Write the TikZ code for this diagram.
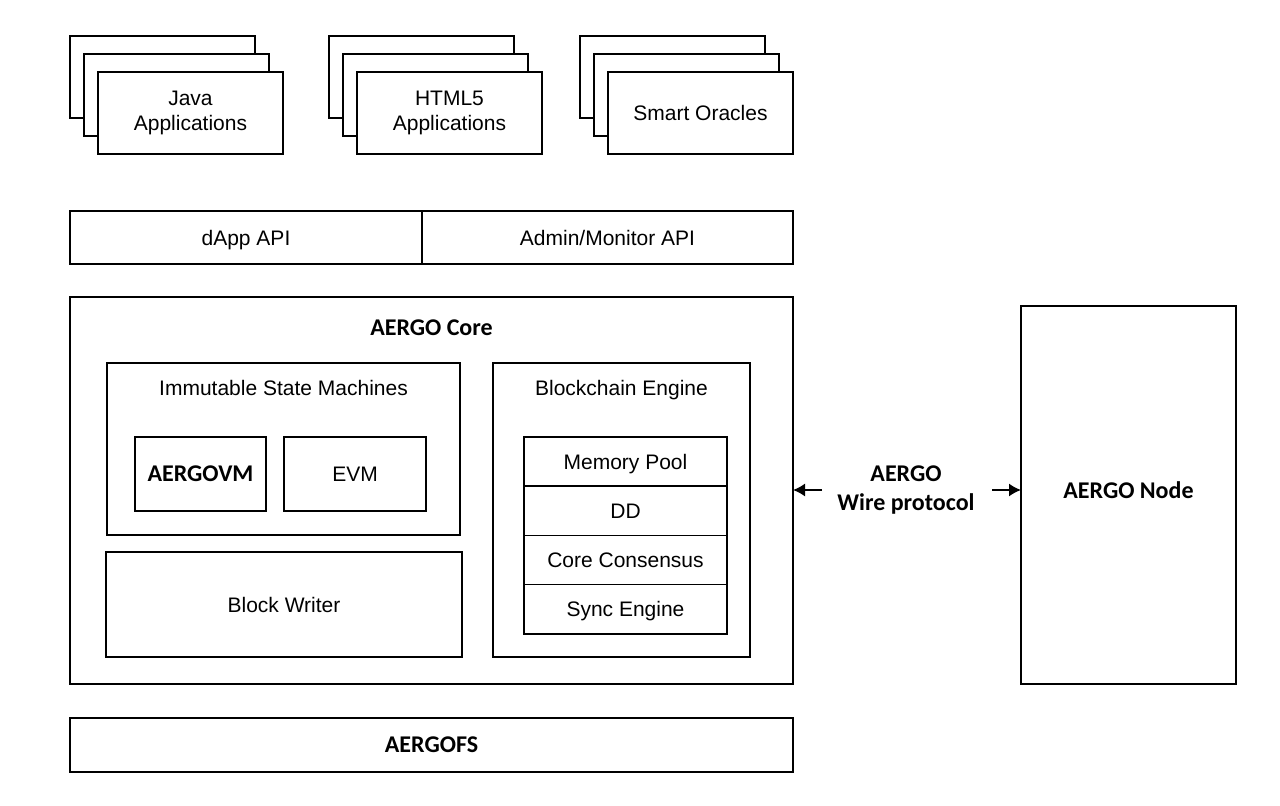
\documentclass[tikz,border=0pt]{standalone}
\usepackage{fontspec}
\setmainfont{Liberation Sans}
\newfontfamily\boldfont{Carlito}
\usetikzlibrary{positioning, arrows.meta}
\tikzset{
  frame/.style={draw, line width=1.5pt, fill=white, inner sep=0pt, outer sep=0pt, align=center,
    font=\fontsize{21}{25}\selectfont},
  box/.style={frame, text height=15pt, text depth=0pt},
  bbox/.style={frame, text height=15.5pt, text depth=0pt, font=\boldfont\bfseries\fontsize{24}{29}\selectfont},
  title/.style={inner sep=0pt, text height=15pt, text depth=0pt, font=\fontsize{21}{25}\selectfont},
  btitle/.style={inner sep=0pt, align=center, font=\boldfont\bfseries\fontsize{24}{29}\selectfont},
}
\begin{document}
\begin{tikzpicture}[x=1pt, y=-1pt, >={Latex[length=12pt, width=13pt]}]
      \useasboundingbox (0,0) rectangle (1280,806);

      % application stacks
      \foreach \name/\x/\txt in {java/70/{Java\\Applications}, html/329/{HTML5\\Applications}, oracle/580/{Smart Oracles}} {
        \node[frame, minimum width=185pt, minimum height=82pt] (\name3) at (\x+92.5,77) {};
        \node[frame, minimum width=185pt, minimum height=82pt] (\name2) at (\x+106.5,95) {};
        \node[frame, minimum width=185pt, minimum height=82pt] (\name) at (\x+120.5,113) {\txt};
      }

      % api bar
      \node[box, minimum width=352pt, minimum height=53pt] (dapi) at (246,237.5) {dApp API};
      \node[box, minimum width=371pt, minimum height=53pt] (aapi) at (607.5,237.5) {Admin/Monitor API};

      % core
      \node[frame, minimum width=723pt, minimum height=387pt] (core) at (431.5,490.5) {};
      \node[btitle] (coret) at (431.5,328) {AERGO Core};

      \node[frame, minimum width=353pt, minimum height=172pt] (ism) at (283.5,449) {};
      \node[title] (ismt) at (283.5,388) {Immutable State Machines};
      \node[bbox, minimum width=131pt, minimum height=74pt] (avm) at (200.5,474) {AERGOVM};
      \node[box, minimum width=142pt, minimum height=74pt] (evm) at (355,474) {EVM};

      \node[box, minimum width=356pt, minimum height=105pt] (bw) at (284,604.5) {Block Writer};

      \node[frame, minimum width=257pt, minimum height=294pt] (bce) at (621.5,510) {};
      \node[title] (bcet) at (621.5,388) {Blockchain Engine};
      \node[box, minimum width=203pt, minimum height=49.25pt] (mpool) at (625.5,461.6) {Memory Pool};
      \node[box, minimum width=203pt, minimum height=49.25pt, below=0pt of mpool] (dd) {DD};
      \node[box, minimum width=203pt, minimum height=49.25pt, below=0pt of dd] (cons) {Core Consensus};
      \node[box, minimum width=203pt, minimum height=49.25pt, below=0pt of cons] (sync) {Sync Engine};

      % node and wire protocol
      \node[frame, minimum width=215pt, minimum height=378pt] (anode) at (1128.5,495) {};
      \node[btitle] (anodet) at (1128.5,490) {AERGO Node};
      \node[btitle] (wire) at (906,490) {AERGO\\Wire protocol};
      \coordinate (wl) at (822,490);
      \coordinate (wr) at (992,490);
      \draw[->, line width=1.5pt] (wl) -- (core.east |- wl);
      \draw[->, line width=1.5pt] (wr) -- (anode.west |- wr);

      \node[bbox, minimum width=723pt, minimum height=54pt] (afs) at (431.5,745) {AERGOFS};
    \end{tikzpicture}
\end{document}
